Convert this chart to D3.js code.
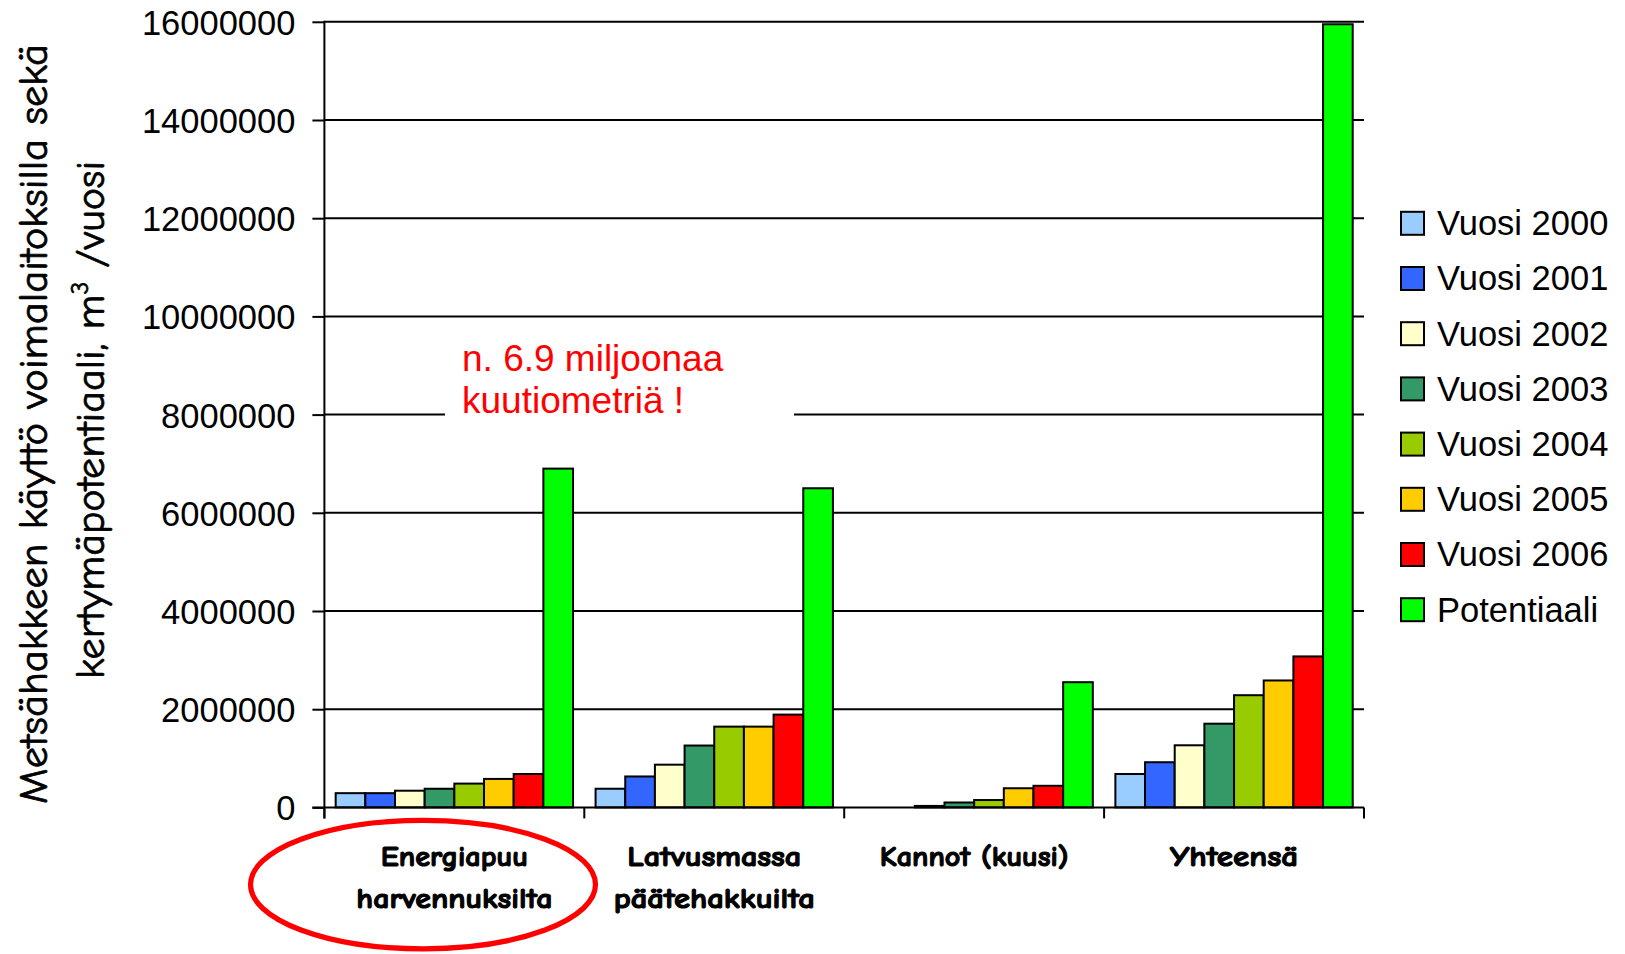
<!DOCTYPE html>
<html>
<head>
<meta charset="utf-8">
<script src="https://cdn.jsdelivr.net/npm/d3@7"></script>
<style>
  html, body { margin: 0; padding: 0; background: #fff; }
  svg { display: block; }
</style>
</head>
<body>
<svg id="chart" width="1625" height="954"></svg>
<script>
// Categories (label lines) and series
const categories = ["Energiapuu harvennuksilta", "Latvusmassa päätehakkuilta", "Kannot (kuusi)", "Yhteensä"];
const categoryLines = [["Energiapuu", "harvennuksilta"], ["Latvusmassa", "päätehakkuilta"], ["Kannot (kuusi)"], ["Yhteensä"]];
const seriesNames = ["Vuosi 2000", "Vuosi 2001", "Vuosi 2002", "Vuosi 2003", "Vuosi 2004", "Vuosi 2005", "Vuosi 2006", "Potentiaali"];

// Values, m3/year, one entry per category
const vuosi2000 = [290000, 380000, 0, 680000];
const vuosi2001 = [290000, 630000, 0, 920000];
const vuosi2002 = [340000, 870000, 30000, 1265000];
const vuosi2003 = [380000, 1260000, 100000, 1705000];
const vuosi2004 = [485000, 1645000, 150000, 2285000];
const vuosi2005 = [580000, 1645000, 390000, 2585000];
const vuosi2006 = [680000, 1890000, 440000, 3075000];
const potentiaali = [6900000, 6500000, 2550000, 15950000];

const yTicks = [0, 2000000, 4000000, 6000000, 8000000, 10000000, 12000000, 14000000, 16000000];

const annotationLines = ["n. 6.9 miljoonaa", "kuutiometriä !"];

const seriesValues = [vuosi2000, vuosi2001, vuosi2002, vuosi2003, vuosi2004, vuosi2005, vuosi2006, potentiaali];
const seriesColors = ["#99CCFF", "#3366FF", "#FFFFCC", "#339966", "#99CC00", "#FFCC00", "#FF0000", "#00FF00"];

const svg = d3.select("#chart");
const plot = { left: 324.4, right: 1364, top: 21.8, bottom: 807.4 };

const y = d3.scaleLinear().domain([0, 16000000]).range([plot.bottom, plot.top]);
const x0 = d3.scaleBand().domain(categories).range([plot.left, plot.right]).padding(0);
const x1 = d3.scaleBand().domain(seriesNames).range([0, x0.bandwidth()])
  .paddingInner(0).paddingOuter(0.38);
const color = d3.scaleOrdinal().domain(seriesNames).range(seriesColors);

const numFont = "Arial, 'Liberation Sans', sans-serif";
const handFont = "'Comic Sans MS', 'Comic Neue', 'DejaVu Sans', sans-serif";

// Horizontal gridlines
svg.append("g")
  .selectAll("line")
  .data(yTicks.filter(d => d > 0))
  .join("line")
  .attr("x1", plot.left).attr("x2", plot.right)
  .attr("y1", d => y(d)).attr("y2", d => y(d))
  .attr("stroke", "#000").attr("stroke-width", 2);

// Y axis with labels
const yAxis = d3.axisLeft(y).tickValues(yTicks).tickSize(12).tickSizeOuter(0)
  .tickPadding(17).tickFormat(d3.format("d"));
const gy = svg.append("g").attr("transform", `translate(${plot.left},0)`).call(yAxis);
gy.select(".domain").remove();
gy.selectAll(".tick line").attr("stroke", "#000").attr("stroke-width", 2);
gy.selectAll(".tick text")
  .attr("font-family", numFont).attr("font-size", 34.5).attr("fill", "#000")
  .attr("dy", "0.36em");
svg.append("line")
  .attr("x1", plot.left).attr("x2", plot.left)
  .attr("y1", plot.top - 1).attr("y2", plot.bottom + 11)
  .attr("stroke", "#000").attr("stroke-width", 2);

// Annotation with white backing box over the gridline
const ann = svg.append("g");
ann.append("rect")
  .attr("x", 445).attr("y", 336).attr("width", 349).attr("height", 88)
  .attr("fill", "#fff");
ann.selectAll("text")
  .data(annotationLines)
  .join("text")
  .attr("x", 462)
  .attr("y", (d, i) => 370.5 + i * 42.5)
  .attr("font-family", numFont).attr("font-size", 37).attr("fill", "#FF0000")
  .text(d => d);

// Bars
const groups = svg.append("g")
  .selectAll("g")
  .data(categories)
  .join("g")
  .attr("transform", d => `translate(${x0(d)},0)`);

groups.selectAll("rect")
  .data((c, ci) => seriesNames.map((s, si) => ({ s, v: seriesValues[si][ci] })).filter(d => d.v > 0))
  .join("rect")
  .attr("x", d => x1(d.s))
  .attr("width", x1.bandwidth())
  .attr("y", d => y(d.v))
  .attr("height", d => y(0) - y(d.v))
  .attr("fill", d => color(d.s))
  .attr("stroke", "#000").attr("stroke-width", 2);

// X axis baseline and category boundary ticks
svg.append("line")
  .attr("x1", plot.left - 12).attr("x2", plot.right)
  .attr("y1", plot.bottom).attr("y2", plot.bottom)
  .attr("stroke", "#000").attr("stroke-width", 2);
const boundaries = categories.map(c => x0(c)).concat([plot.right]);
svg.append("g")
  .selectAll("line")
  .data(boundaries)
  .join("line")
  .attr("x1", d => d).attr("x2", d => d)
  .attr("y1", plot.bottom).attr("y2", plot.bottom + 11)
  .attr("stroke", "#000").attr("stroke-width", 2);

// Category labels
const labelWidths = [[147, 196], [174, 201], [189], [128]];
const catLabels = svg.append("g");
categoryLines.forEach((lines, ci) => {
  const cx = x0(categories[ci]) + x0.bandwidth() / 2;
  lines.forEach((t, li) => {
    catLabels.append("text")
      .attr("x", cx).attr("y", 866 + li * 42)
      .attr("text-anchor", "middle")
      .attr("font-family", handFont).attr("font-weight", "bold")
      .attr("font-size", 29).attr("fill", "#000")
      .attr("stroke", "#000").attr("stroke-width", 1.1).attr("stroke-linejoin", "round")
      .attr("textLength", labelWidths[ci][li]).attr("lengthAdjust", "spacingAndGlyphs")
      .text(t);
  });
});

// Red ellipse around the first category
svg.append("ellipse")
  .attr("cx", 423).attr("cy", 884.6).attr("rx", 172.5).attr("ry", 64.2)
  .attr("fill", "none").attr("stroke", "#FF0000").attr("stroke-width", 5.2);

// Y axis title (two rotated lines)
const title = svg.append("g").attr("font-family", handFont).attr("font-size", 40)
  .attr("fill", "#000").attr("stroke", "#000").attr("stroke-width", 0.7);
title.append("text")
  .attr("transform", "translate(47,424) rotate(-90)")
  .attr("text-anchor", "middle")
  .attr("textLength", 760).attr("lengthAdjust", "spacingAndGlyphs")
  .text("Metsähakkeen käyttö voimalaitoksilla sekä");
const t2 = title.append("text")
  .attr("transform", "translate(104,420) rotate(-90)")
  .attr("text-anchor", "middle")
  .attr("textLength", 518).attr("lengthAdjust", "spacingAndGlyphs");
t2.append("tspan").text("kertymäpotentiaali, m");
t2.append("tspan").attr("font-size", 24).attr("dy", -16).text("3");
t2.append("tspan").attr("dy", 16).text(" /vuosi");

// Legend
const legend = svg.append("g")
  .selectAll("g")
  .data(seriesNames)
  .join("g")
  .attr("transform", (d, i) => `translate(1401,${222.8 + i * 55.2})`);
legend.append("rect")
  .attr("x", 0).attr("y", -11).attr("width", 23).attr("height", 23)
  .attr("fill", d => color(d)).attr("stroke", "#000").attr("stroke-width", 2);
legend.append("text")
  .attr("x", 36).attr("dy", "0.36em")
  .attr("font-family", numFont).attr("font-size", 34.5).attr("fill", "#000")
  .text(d => d);
</script>
</body>
</html>
